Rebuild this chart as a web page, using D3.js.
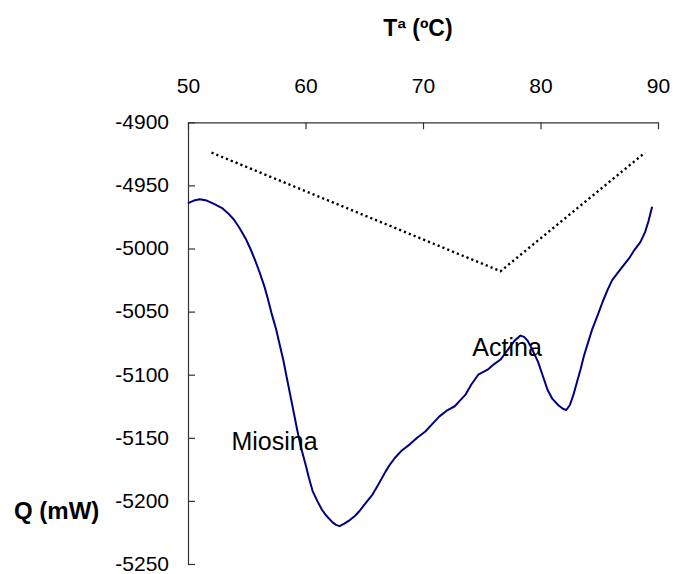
<!DOCTYPE html>
<html>
<head>
<meta charset="utf-8">
<script src="https://cdn.jsdelivr.net/npm/d3@7"></script>
<style>
  html, body { margin: 0; padding: 0; background: #fff; }
  svg { display: block; }
  text { font-family: "Liberation Sans", Arial, sans-serif; fill: #000; }
</style>
</head>
<body>
<svg id="chart" width="691" height="574"></svg>
<script>
// ---- data ----
const temperature = [50.0, 50.5, 51.0, 51.6, 52.3, 52.9, 53.4, 53.9, 54.4, 54.9, 55.3, 55.7, 56.1, 56.5, 56.8, 57.1, 57.5, 57.8, 58.1, 58.4, 58.7, 59.0, 59.3, 59.6, 60.0, 60.3, 60.6, 61.0, 61.4, 61.8, 62.3, 62.6, 62.9, 63.3, 63.8, 64.2, 64.6, 65.1, 65.7, 66.2, 66.8, 67.2, 67.6, 68.2, 68.9, 69.5, 70.2, 70.8, 71.4, 72.1, 72.7, 73.2, 73.6, 74.1, 74.7, 75.1, 75.5, 76.0, 76.6, 77.0, 77.4, 77.8, 78.3, 78.6, 78.9, 79.3, 79.8, 80.2, 80.6, 81.0, 81.5, 81.9, 82.2, 82.5, 82.8, 83.1, 83.4, 83.7, 84.0, 84.4, 84.9, 85.3, 85.7, 86.1, 86.6, 87.1, 87.6, 88.0, 88.5, 88.9, 89.2, 89.5];
const heatFlow = [-4964, -4962, -4961, -4962, -4965, -4968, -4972, -4977, -4984, -4992, -5000, -5009, -5019, -5030, -5040, -5051, -5064, -5076, -5088, -5102, -5116, -5130, -5144, -5157, -5171, -5182, -5192, -5200, -5207, -5212, -5217, -5219, -5220, -5218, -5215, -5212, -5208, -5202, -5195, -5187, -5177, -5171, -5166, -5160, -5155, -5150, -5145, -5139, -5133, -5128, -5125, -5120, -5116, -5108, -5100, -5098, -5096, -5092, -5088, -5083, -5078, -5073, -5069, -5070, -5073, -5080, -5090, -5101, -5112, -5119, -5124, -5127, -5128, -5124, -5116, -5106, -5096, -5085, -5076, -5064, -5052, -5042, -5033, -5025, -5019, -5013, -5007, -5001, -4995, -4987, -4978, -4967];
const baselineT = [52.0, 76.6, 88.9];
const baselineQ = [-4924, -5018, -4924];
const xTicks = [50, 60, 70, 80, 90];
const yTicks = [-4900, -4950, -5000, -5050, -5100, -5150, -5200, -5250];
const annotations = [
  { label: "Miosina", t: 53.7, q: -5160 },
  { label: "Actina", t: 74.2, q: -5085 }
];
const xTitle = "Tª (ºC)";
const yTitle = "Q (mW)";

// ---- layout ----
const svg = d3.select("#chart");
const pLeft = 188, pRight = 658, pTop = 122.3, pBottom = 564;
const x = d3.scaleLinear().domain([50, 90]).range([pLeft, pRight]);
const y = d3.scaleLinear().domain([-4900, -5250]).range([pTop, pBottom]);
const fontSize = 21;
const fam = '"Liberation Sans", Arial, sans-serif';

// top axis
const xAxis = d3.axisTop(x).tickValues(xTicks).tickSizeInner(-7).tickSizeOuter(0).tickPadding(29);
const gx = svg.append("g").attr("transform", `translate(0,${pTop})`).call(xAxis);
gx.select(".domain").attr("stroke", "#333").attr("stroke-width", 1.2);
gx.selectAll(".tick line").attr("stroke", "#333").attr("stroke-width", 1.2);
gx.selectAll(".tick text").style("font-size", fontSize + "px").style("font-family", fam).attr("fill", "#000");

// left axis
const yAxis = d3.axisLeft(y).tickValues(yTicks).tickSizeInner(-7).tickSizeOuter(0).tickPadding(19);
const gy = svg.append("g").attr("transform", `translate(${pLeft},0)`).call(yAxis);
gy.select(".domain").attr("stroke", "#333").attr("stroke-width", 1.2);
gy.selectAll(".tick line").attr("stroke", "#333").attr("stroke-width", 1.2);
gy.selectAll(".tick text").style("font-size", fontSize + "px").style("font-family", fam).attr("fill", "#000")
  .attr("dy", "0.3em")
  .text(d => String(d));

// baseline (dotted)
const base = baselineT.map((t, i) => [t, baselineQ[i]]);
svg.append("path")
  .datum(base)
  .attr("fill", "none")
  .attr("stroke", "#000")
  .attr("stroke-width", 2.4)
  .attr("stroke-dasharray", "2.2,3")
  .attr("d", d3.line().x(d => x(d[0])).y(d => y(d[1])));

// DSC curve
const curve = temperature.map((t, i) => [t, heatFlow[i]]);
svg.append("path")
  .datum(curve)
  .attr("fill", "none")
  .attr("stroke", "#000080")
  .attr("stroke-width", 2)
  .attr("stroke-linejoin", "round")
  .attr("d", d3.line().x(d => x(d[0])).y(d => y(d[1])));

// annotations
svg.selectAll("text.ann")
  .data(annotations)
  .enter().append("text")
  .attr("class", "ann")
  .attr("x", d => x(d.t))
  .attr("y", d => y(d.q))
  .style("font-size", "25px")
  .text(d => d.label);

// titles
svg.append("text")
  .attr("x", 418).attr("y", 36)
  .attr("text-anchor", "middle")
  .style("font-size", "23px").style("font-weight", "bold")
  .text(xTitle);
svg.append("text")
  .attr("x", 14).attr("y", 519)
  .style("font-size", "24px").style("font-weight", "bold")
  .text(yTitle);
</script>
</body>
</html>
